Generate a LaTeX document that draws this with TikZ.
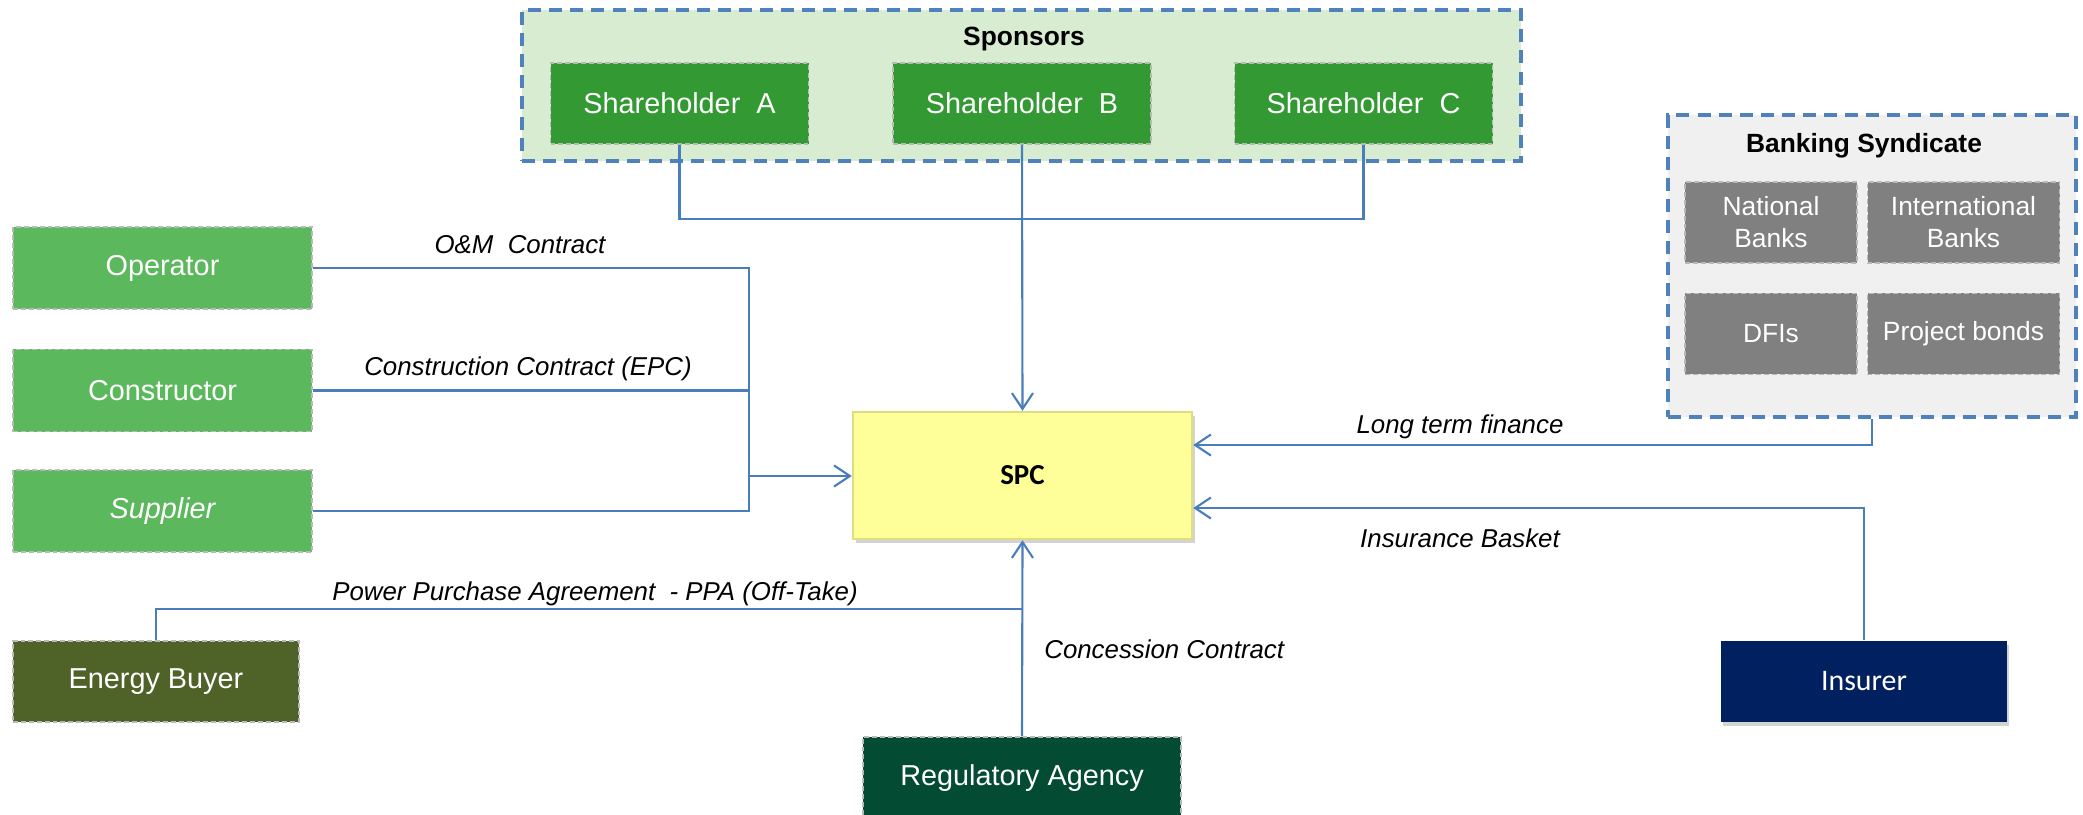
\documentclass[tikz,border=0pt]{standalone}
\usepackage{fontspec}
\setmainfont{Liberation Sans}
\newfontfamily\calibri{Carlito}
\usetikzlibrary{positioning, arrows.meta, shadows, calc}

\definecolor{linkblue}{RGB}{74,126,187}
\definecolor{frameblue}{RGB}{79,129,189}
\definecolor{sponsorbg}{RGB}{216,236,210}
\definecolor{holdergreen}{RGB}{51,153,51}
\definecolor{partygreen}{RGB}{92,184,92}
\definecolor{bankbg}{RGB}{240,240,240}
\definecolor{bankgray}{RGB}{128,128,128}
\definecolor{buyerolive}{RGB}{79,98,40}
\definecolor{agencygreen}{RGB}{3,75,50}
\definecolor{insurernavy}{RGB}{0,32,96}
\definecolor{spcyellow}{RGB}{255,255,153}
\definecolor{spcedge}{RGB}{222,222,128}

\begin{document}
\begin{tikzpicture}[
    >={Straight Barb[length=9pt,width=12pt]},
    % Group frames (dashed blue)
    group/.style={draw=frameblue, line width=1.9pt, dash pattern=on 7.4pt off 4.6pt, rectangle},
    grouptitle/.style={font=\bfseries\fontsize{15}{18}\selectfont, anchor=base, inner sep=0pt},
    % Party boxes
    party/.style={draw=gray!55, line width=0.85pt, dash pattern=on 2.8pt off 1.7pt, rectangle, text=white, minimum width=5.98cm, minimum height=1.64cm, align=center, font=\fontsize{16.4}{19.7}\selectfont},
    holder/.style={party, fill=holdergreen, minimum width=5.16cm, minimum height=1.62cm},
    bank/.style={party, fill=bankgray, minimum width=3.44cm, minimum height=1.62cm, font=\fontsize{15}{18.2}\selectfont},
    spcbox/.style={draw=spcedge, line width=1.4pt, fill=spcyellow, rectangle, minimum width=6.78cm, minimum height=2.54cm, font=\calibri\bfseries\fontsize{16.5}{20}\selectfont, drop shadow={shadow xshift=1.5pt, shadow yshift=-2.5pt, opacity=0.35}},
    % Connectors
    link/.style={draw=linkblue, line width=1.2pt},
    lbl/.style={font=\itshape\fontsize{14.7}{17.6}\selectfont, anchor=base, inner sep=0pt}
]
    \useasboundingbox (0,0) rectangle (41.66,-16.28);

    % ==================== Sponsors ====================
    \node (sponsors) [group, fill=sponsorbg, minimum width=19.98cm, minimum height=3.02cm] at (20.43,-1.71) {};
    \node (sponsorstitle) [grouptitle] at (20.48,-0.90) {Sponsors};
    \node (holderB) [holder] at (20.44,-2.07) {Shareholder~~B};
    \node (holderA) [holder, left=1.66cm of holderB] {Shareholder~~A};
    \node (holderC) [holder, right=1.64cm of holderB] {Shareholder~~C};

    % ==================== Banking Syndicate ====================
    \node (banks) [group, fill=bankbg, minimum width=8.16cm, minimum height=6.04cm] at (37.44,-5.32) {};
    \node (bankstitle) [grouptitle] at (37.28,-3.04) {Banking Syndicate};
    \node (natbank) [bank] at (35.42,-4.45) {National\\Banks};
    \node (intbank) [bank, minimum width=3.84cm, right=0.18cm of natbank] {International\\Banks};
    \node (dfi) [bank, below=0.58cm of natbank] {DFIs};
    \node (bonds) [bank, minimum width=3.84cm, below=0.58cm of intbank] {Project bonds};

    % ==================== SPC and parties ====================
    \node (spc) [spcbox] at (20.45,-9.51) {SPC};

    \node (operator) [party, fill=partygreen] at (3.25,-5.36) {Operator};
    \node (constructor) [party, fill=partygreen, below=0.78cm of operator] {Constructor};
    \node (supplier) [party, fill=partygreen, below=0.74cm of constructor] {\itshape Supplier};

    \node (buyer) [party, fill=buyerolive, minimum width=5.72cm, minimum height=1.62cm] at (3.12,-13.63) {Energy Buyer};
    \node (agency) [party, fill=agencygreen, minimum width=6.36cm] at (20.44,-15.56) {Regulatory Agency};
    \node (insurer) [party, draw=none, fill=insurernavy, minimum width=5.72cm, minimum height=1.62cm, font=\calibri\fontsize{17}{20}\selectfont, drop shadow={shadow xshift=1pt, shadow yshift=-2.5pt, opacity=0.35}] at (37.28,-13.63) {Insurer};

    % Sponsors -> SPC
    \coordinate (holderbus) at (20.44,-4.38);
    \draw [link] (holderA.south) |- (holderbus) -| (holderC.south);
    \draw [link, ->] (holderB.south) -- (spc.north);

    % Contractors -> SPC
    \coordinate (contractbus) at (14.98,-9.52);
    \draw [link] (operator.east) -| (contractbus |- supplier.east) -- (supplier.east);
    \draw [link] (constructor.east) -- (constructor.east -| contractbus);
    \draw [link, ->] (contractbus) -- (contractbus -| spc.west);
    \node (omlbl) [lbl] at (10.40,-5.06) {O\&M~~Contract};
    \node (epclbl) [lbl] at (10.56,-7.50) {Construction Contract (EPC)};

    % Off-take and concession
    \coordinate (ppajoin) at (20.44,-12.18);
    \draw [link] (buyer.north) |- (ppajoin);
    \draw [link, ->] (agency.north) -- (spc.south);
    \node (ppalbl) [lbl] at (11.90,-12.00) {Power Purchase Agreement~~- PPA (Off-Take)};
    \node (concessionlbl) [lbl, anchor=base west] at (20.88,-13.16) {Concession Contract};

    % Finance and insurance
    \draw [link, ->] (banks.south) |- ([yshift=0.61cm]spc.east);
    \draw [link, ->] (insurer.north) |- ([yshift=-0.65cm]spc.east);
    \node (financelbl) [lbl] at (29.20,-8.66) {Long term finance};
    \node (insurancelbl) [lbl] at (29.20,-10.94) {Insurance Basket};

\end{tikzpicture}
\end{document}
